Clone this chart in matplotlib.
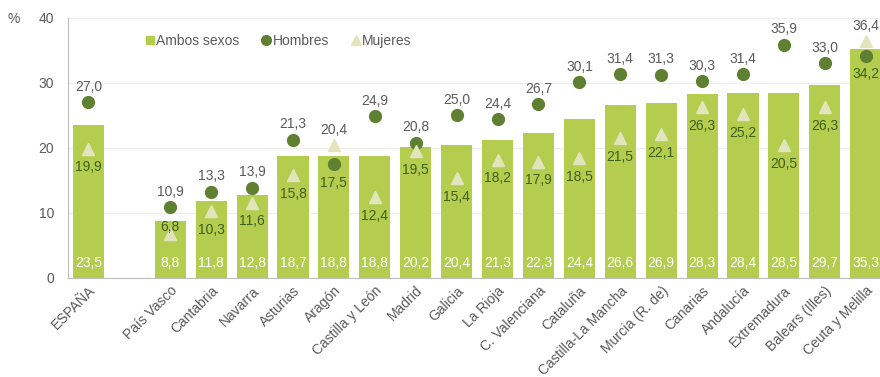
import matplotlib
matplotlib.use("Agg")
import matplotlib.pyplot as plt
from matplotlib.lines import Line2D

plt.rcParams['font.family'] = ['Liberation Sans', 'DejaVu Sans']

categories = ["ESPAÑA", "País Vasco", "Cantabria", "Navarra", "Asturias", "Aragón",
              "Castilla y León", "Madrid", "Galicia", "La Rioja", "C. Valenciana",
              "Cataluña", "Castilla-La Mancha", "Murcia (R. de)", "Canarias",
              "Andalucía", "Extremadura", "Balears (Illes)", "Ceuta y Melilla"]
ambos = [23.5, 8.8, 11.8, 12.8, 18.7, 18.8, 18.8, 20.2, 20.4, 21.3, 22.3,
         24.4, 26.6, 26.9, 28.3, 28.4, 28.5, 29.7, 35.3]
hombres = [27.0, 10.9, 13.3, 13.9, 21.3, 17.5, 24.9, 20.8, 25.0, 24.4, 26.7,
           30.1, 31.4, 31.3, 30.3, 31.4, 35.9, 33.0, 34.2]
mujeres = [19.9, 6.8, 10.3, 11.6, 15.8, 20.4, 12.4, 19.5, 15.4, 18.2, 17.9,
           18.5, 21.5, 22.1, 26.3, 25.2, 20.5, 26.3, 36.4]
y_ticks = [0, 10, 20, 30, 40]

BAR = "#b4cd4f"
MEN = "#5f8030"
WOMEN = "#e2e5bb"
GRAY = "#5a5a5a"
DARK = "#3f5f1c"
FS = 10

def fmt(v):
    return f"{v:.1f}".replace(".", ",")

# Spain stands apart from the regions, with one empty slot between them
pos = [0] + list(range(2, 2 + len(categories) - 1))

fig = plt.figure(figsize=(8.8, 3.77), dpi=100)
ax = fig.add_axes([0.0773, 0.2626, 0.9227, 0.6897])

ax.bar(pos, ambos, width=0.76, color=BAR, zorder=2)
ax.plot(pos, hombres, 'o', color=MEN, markersize=8.5, zorder=3, linestyle='none')
ax.plot(pos, mujeres, '^', color=WOMEN, markersize=9, zorder=3, linestyle='none')

for x, a, h, m in zip(pos, ambos, hombres, mujeres):
    ax.text(x, 2.3, fmt(a), color="white", ha="center", va="center", fontsize=FS, zorder=4)
    hi, lo = (h, m) if h >= m else (m, h)
    ax.annotate(fmt(hi), (x, hi), xytext=(0, 6), textcoords="offset points",
                ha="center", va="bottom", color=GRAY, fontsize=FS, zorder=4)
    if lo < 8:
        # too close to the bar's own label: put it on top of the marker
        ax.annotate(fmt(lo), (x, lo), xytext=(0, 5), textcoords="offset points",
                    ha="center", va="center", color=DARK, fontsize=FS, zorder=4)
    else:
        ax.annotate(fmt(lo), (x, lo), xytext=(0, -8.5), textcoords="offset points",
                    ha="center", va="top", color=DARK, fontsize=FS, zorder=4)

ax.set_xlim(-0.5, 19.35)
ax.set_ylim(0, 40)
ax.set_yticks(y_ticks)
ax.yaxis.grid(True, color="#ececec", linewidth=0.8, zorder=0)
ax.set_axisbelow(True)
ax.tick_params(axis="y", length=0, colors=GRAY, labelsize=FS, pad=10)
ax.set_xticks(pos)
ax.set_xticklabels(categories, rotation=45, ha="right", rotation_mode="anchor",
                   fontsize=FS, color=GRAY)
ax.tick_params(axis="x", length=0, pad=4)
for s in ["top", "right"]:
    ax.spines[s].set_visible(False)
ax.spines["left"].set_color("#bdbdbd")
ax.spines["bottom"].set_color("#bdbdbd")

fig.text(14 / 880, 1 - 19 / 377, "%", color=GRAY, fontsize=FS, ha="center", va="center")

handles = [
    Line2D([], [], marker='s', color=BAR, linestyle='none', markersize=6),
    Line2D([], [], marker='o', color=MEN, linestyle='none', markersize=7),
    Line2D([], [], marker='^', color=WOMEN, linestyle='none', markersize=7),
]
leg = ax.legend(handles, ["Ambos sexos", "Hombres", "Mujeres"], ncol=3, frameon=False,
                loc="center", bbox_to_anchor=(0.258, 0.912), fontsize=FS,
                handletextpad=0.0, columnspacing=1.5, handlelength=0.9)
for t in leg.get_texts():
    t.set_color(GRAY)

fig.savefig("out.png", dpi=100)
